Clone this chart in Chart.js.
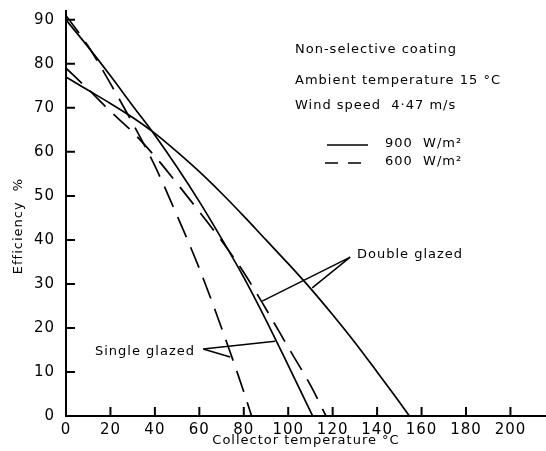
<!DOCTYPE html>
<html>
<head>
<meta charset="utf-8">
<script src="https://cdn.jsdelivr.net/npm/chart.js@4.4.1/dist/chart.umd.min.js"></script>
<style>
  html, body { margin: 0; padding: 0; background: #fff; }
  #wrap { width: 546px; height: 451px; }
</style>
</head>
<body>
<div id="wrap"><canvas id="effChart" width="546" height="451"></canvas></div>
<script>
// ============================
// Data
// ============================
const xTicks = [0, 20, 40, 60, 80, 100, 120, 140, 160, 180, 200];
const yTicks = [0, 10, 20, 30, 40, 50, 60, 70, 80, 90];

// single glazed, 900 W/m2 (solid)
const single900X = [0, 10, 20, 30, 40, 50, 60, 70, 80, 90, 100, 111];
const single900Y = [90, 83.8, 77.3, 70.5, 63.8, 56.5, 48.7, 40.3, 31.5, 21.8, 11.5, 0];

// double glazed, 900 W/m2 (solid)
const double900X = [0, 10, 20, 30, 40, 50, 60, 70, 80, 90, 100, 110, 120, 130, 140, 150, 154.5];
const double900Y = [77, 74, 71, 67.8, 64.2, 60, 55.5, 50.6, 45.4, 40, 34.6, 29, 23, 16.7, 10, 3.2, 0];

// single glazed, 600 W/m2 (dashed)
const single600X = [0, 10, 20, 30, 40, 50, 60, 70, 80, 83.5];
const single600Y = [91, 84, 75.5, 66.5, 56.8, 45.5, 33.5, 20, 5.5, 0];

// double glazed, 600 W/m2 (dashed)
const double600X = [0, 10, 20, 30, 40, 50, 60, 70, 80, 90, 100, 110, 117];
const double600Y = [79, 74.2, 69.2, 64.5, 59, 52.8, 46.4, 39.8, 32.6, 24.3, 15.6, 7, 0];

// ============================
// Helpers
// ============================
const FONT = '"DejaVu Sans", sans-serif';

function toPoints(xs, ys) {
    return xs.map((x, i) => ({ x: x, y: ys[i] }));
}

function curve(xs, ys, dashed) {
    return {
        data: toPoints(xs, ys),
        showLine: true,
        borderColor: '#000',
        borderWidth: 1.7,
        borderDash: dashed ? [22, 11] : [],
        pointRadius: 0,
        cubicInterpolationMode: 'monotone',
        fill: false
    };
}

// ============================
// Hand-drawn extras: inward ticks, pointers, notes
// ============================
const inkPlugin = {
    id: 'ink',
    beforeDraw(chart) {
        chart.ctx.letterSpacing = '1px';
    },
    afterDraw(chart) {
        const ctx = chart.ctx;
        const x = chart.scales.x, y = chart.scales.y;
        const px = v => x.getPixelForValue(v);
        const py = v => y.getPixelForValue(v);

        ctx.save();
        ctx.strokeStyle = '#000';
        ctx.fillStyle = '#000';
        ctx.lineWidth = 2;

        // ticks pointing into the plot
        ctx.beginPath();
        xTicks.forEach(v => {
            if (v === 0) return;
            ctx.moveTo(px(v), y.bottom);
            ctx.lineTo(px(v), y.bottom - 9);
        });
        yTicks.forEach(v => {
            ctx.moveTo(x.left, py(v));
            ctx.lineTo(x.left + 9, py(v));
        });
        ctx.stroke();

        // pointer lines to the curves
        ctx.lineWidth = 1.5;
        ctx.beginPath();
        ctx.moveTo(px(127.9), py(36.1)); ctx.lineTo(px(88.3), py(26.1));
        ctx.moveTo(px(127.9), py(36.1)); ctx.lineTo(px(110.8), py(29.1));
        ctx.moveTo(px(61.7), py(15.2));  ctx.lineTo(px(94.1), py(17));
        ctx.moveTo(px(61.7), py(15.2));  ctx.lineTo(px(73.9), py(13.4));
        ctx.stroke();

        // legend samples
        ctx.beginPath();
        ctx.moveTo(327, 145); ctx.lineTo(368, 145);
        ctx.stroke();
        ctx.setLineDash([13, 10]);
        ctx.beginPath();
        ctx.moveTo(325, 163); ctx.lineTo(368, 163);
        ctx.stroke();
        ctx.setLineDash([]);

        // notes
        ctx.letterSpacing = '1px';
        ctx.textBaseline = 'middle';
        ctx.textAlign = 'left';
        ctx.font = '13px ' + FONT;
        ctx.fillText('Non-selective coating', 295, 50);
        ctx.fillText('Ambient temperature 15 °C', 295, 81);
        ctx.fillText('Wind speed  4·47 m/s', 295, 106);
        ctx.fillText('900  W/m²', 385, 144);
        ctx.fillText('600  W/m²', 385, 162);
        ctx.fillText('Double glazed', 357, 255);
        ctx.textAlign = 'right';
        ctx.fillText('Single glazed', 195, 352);

        // y axis title
        ctx.translate(19, 226);
        ctx.rotate(-Math.PI / 2);
        ctx.textAlign = 'center';
        ctx.fillText('Efficiency  %', 0, 0);
        ctx.restore();
    }
};

// ============================
// Chart
// ============================
const ctx = document.getElementById('effChart').getContext('2d');

new Chart(ctx, {
    type: 'scatter',
    data: {
        datasets: [
            curve(single900X, single900Y, false),
            curve(double900X, double900Y, false),
            curve(single600X, single600Y, true),
            curve(double600X, double600Y, true)
        ]
    },
    options: {
        responsive: false,
        animation: false,
        layout: { padding: { top: 11, right: 0, left: 0, bottom: 0 } },
        plugins: {
            legend: { display: false },
            tooltip: { enabled: false }
        },
        scales: {
            x: {
                type: 'linear',
                min: 0,
                max: 216,
                afterBuildTicks: s => { s.ticks = xTicks.map(v => ({ value: v })); },
                afterFit: s => { s.height = 35; s.paddingLeft = 0; s.paddingRight = 0; },
                grid: { display: true, drawOnChartArea: false, drawTicks: false },
                border: { display: true, color: '#000', width: 2 },
                ticks: {
                    color: '#000',
                    padding: 5,
                    maxRotation: 0,
                    autoSkip: false,
                    font: { family: FONT, size: 15 }
                },
                title: {
                    display: true,
                    text: 'Collector temperature °C',
                    color: '#000',
                    padding: { top: 0, bottom: 3 },
                    font: { family: FONT, size: 13 }
                }
            },
            y: {
                type: 'linear',
                min: 0,
                max: 92,
                afterBuildTicks: s => { s.ticks = yTicks.map(v => ({ value: v })); },
                afterFit: s => { s.width = 66; s.paddingTop = 0; s.paddingBottom = 0; },
                grid: { display: true, drawOnChartArea: false, drawTicks: false },
                border: { display: true, color: '#000', width: 2 },
                ticks: {
                    color: '#000',
                    padding: 11,
                    autoSkip: false,
                    font: { family: FONT, size: 15 }
                }
            }
        }
    },
    plugins: [inkPlugin]
});
</script>
</body>
</html>
